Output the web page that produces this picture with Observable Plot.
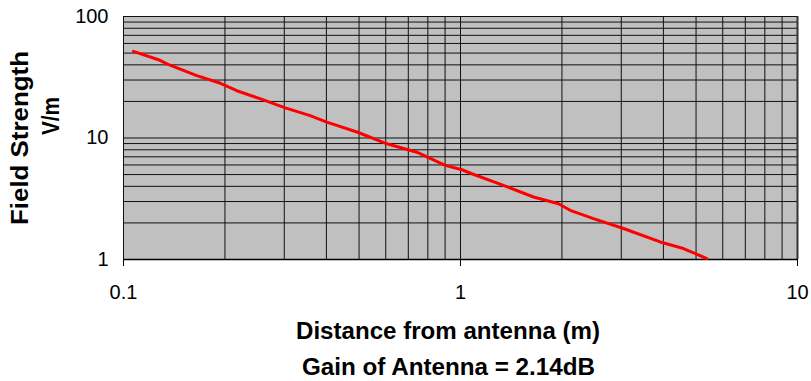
<!DOCTYPE html>
<html><head><meta charset="utf-8">
<script src="https://cdn.jsdelivr.net/npm/d3@7"></script>
<script src="https://cdn.jsdelivr.net/npm/@observablehq/plot@0.6"></script>
<style>body{margin:0;background:#fff;}</style>
</head><body><div id="chart"></div>
<script>
// Data
const distance = [0.107, 0.127, 0.135, 0.165, 0.194, 0.217, 0.26, 0.302, 0.358, 0.401, 0.493, 0.605, 0.742, 0.901, 1.01, 1.081, 1.341, 1.647, 1.953, 2.116, 2.48, 3.046, 3.914, 4.588, 5.385];
const field = [51.6, 44.1, 40.6, 32.6, 28.2, 24.5, 20.6, 17.7, 15.3, 13.5, 11.2, 8.96, 7.64, 5.95, 5.48, 5.08, 4.07, 3.27, 2.88, 2.54, 2.17, 1.80, 1.395, 1.231, 1.019];

const xTicks = [0.1, 1, 10];
const xTickLabels = ["0.1", "1", "10"];
const yTicks = [1, 10, 100];
const yTickLabels = ["1", "10", "100"];
const xGrid = [0.1, 0.2, 0.3, 0.4, 0.5, 0.6, 0.7, 0.8, 0.9, 1, 2, 3, 4, 5, 6, 7, 8, 9, 10];
const yGrid = [1, 2, 3, 4, 5, 6, 7, 8, 9, 10, 20, 30, 40, 50, 60, 70, 80, 90, 100];

const xTitle = "Distance from antenna (m)";
const xSubTitle = "Gain of Antenna = 2.14dB";
const yTitle1 = "Field Strength";
const yTitle2 = "V/m";

const data = distance.map((d, i) => ({d, v: field[i]}));
const font = "Arial, 'Liberation Sans', sans-serif";

const plot = Plot.plot({
  width: 811, height: 381,
  marginLeft: 123, marginRight: 14, marginTop: 16, marginBottom: 122,
  x: {type: "log", domain: [0.1, 10]},
  y: {type: "log", domain: [1, 100]},
  style: {fontFamily: font, background: "#fff", color: "#000"},
  marks: [
    Plot.frame({fill: "#c0c0c0", stroke: "none"}),
    Plot.ruleX(xGrid, {stroke: "#111", strokeWidth: 1}),
    Plot.ruleY(yGrid, {stroke: "#111", strokeWidth: 1}),
    Plot.ruleY([1], {stroke: "#000", strokeWidth: 1.5}),
    Plot.ruleX([10], {stroke: "#333", strokeWidth: 2}),
    Plot.line(data, {x: "d", y: "v", stroke: "#ff0000", strokeWidth: 3}),
    Plot.axisX(xTicks, {tickSize: 7, tickPadding: 18, fontSize: 20, label: null,
      tickFormat: d => xTickLabels[xTicks.indexOf(d)]}),
    Plot.axisY(yTicks, {tickSize: 0, tickPadding: 15, fontSize: 20, label: null,
      tickFormat: d => yTickLabels[yTicks.indexOf(d)]})
  ]
});

const svg = d3.select(plot);
function title(x, y, rot, txt, len, size) {
  const t = svg.append("text")
    .attr("transform", `translate(${x},${y}) rotate(${rot})`)
    .attr("text-anchor", "middle")
    .attr("font-family", font)
    .attr("font-size", size)
    .attr("font-weight", "bold")
    .attr("fill", "#000")
    .text(txt);
  if (len) t.attr("textLength", len).attr("lengthAdjust", "spacingAndGlyphs");
}
title(448, 339, 0, xTitle, 304, 23);
title(448.5, 375, 0, xSubTitle, 293, 23);
title(28, 138, -90, yTitle1, 174, 23);
title(59, 116, -90, yTitle2, 38, 23);

document.getElementById("chart").appendChild(plot);
</script>
</body></html>
